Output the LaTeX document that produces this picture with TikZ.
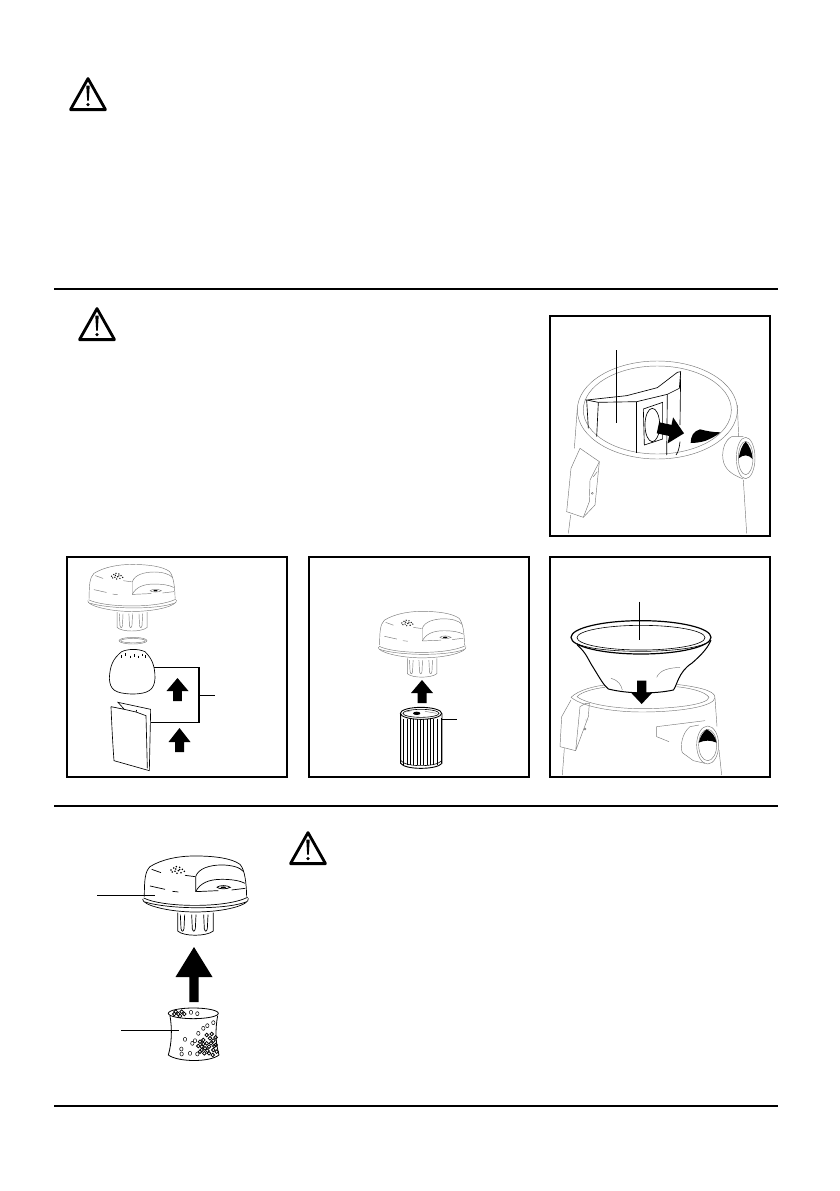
\documentclass[tikz,border=0pt]{standalone}
\usepackage{xcolor}
\usetikzlibrary{positioning}

\newcommand{\blockarrow}[6]{% tip, rotation, half head, head length, half shaft, total length
  \fill[black,shift={#1},rotate=#2] (0,0) -- (#3,#4) -- (#5,#4) -- (#5,#6) -- (-#5,#6) -- (-#5,#4) -- (-#3,#4) -- cycle;}

\tikzset{
  rule/.style={line width=1.1pt},
  panel/.style={draw, line width=1.6pt, minimum width=220pt, minimum height=220pt, inner sep=0pt},
  leader/.style={line width=.8pt},
  thinline/.style={black!52, line width=.45pt},
  darkline/.style={black, line width=.65pt},
  lidline/.style={black, line width=.7pt},
  pics/warning/.style={code={
    \draw[line width=2.8pt, line join=round] (0,-31) -- (17.5,0) -- (-17.5,0) -- cycle;
    \fill (0,-5) circle (1.8);
    \fill (-1.7,-24) -- (1.7,-24) -- (.8,-9) -- (-.8,-9) -- cycle;
  }},
  pics/lid/.style={code={
    \begin{scope}[shift={(-110,-68.33)}, scale=1/3]
      \draw[lidline] (178,200) .. controls (178,150) and (180,125) .. (195,110)
        .. controls (230,88) and (280,78) .. (330,78)
        .. controls (390,78) and (440,85) .. (465,103)
        .. controls (480,120) and (484,160) .. (485,200);
      \draw[lidline] (176,204) .. controls (230,232) and (420,236) .. (488,202);
      \draw[lidline] (173,207) .. controls (170,225) and (250,246) .. (330,246)
        .. controls (420,246) and (495,225) .. (490,205);
      \draw[lidline] (180,216) .. controls (250,238) and (420,240) .. (483,216);
      \draw[lidline] (332,185) -- (332,140) .. controls (340,115) and (375,105) .. (410,105)
        .. controls (440,105) and (465,112) .. (476,125);
      \draw[lidline] (332,185) .. controls (345,160) and (370,148) .. (410,148)
        .. controls (440,148) and (465,152) .. (480,160);
      \draw[lidline] (332,185) -- (400,182) (440,180) -- (481,175);
      \draw[lidline] (200,118) -- (228,128) (300,136) -- (330,140);
      \draw[lidline] (195,168) -- (240,178) (262,184) -- (280,186);
      \draw[lidline] (278,248) -- (278,303) .. controls (295,320) and (365,320) .. (385,303) -- (385,248);
      \foreach \rib in {292,326,362} {
        \draw[lidline] (\rib-6,254) -- (\rib-4,296) .. controls (\rib-2,306) and (\rib+3,306) .. (\rib+5,296) -- (\rib+7,254);
      }
      \draw[lidline] (395,172) .. controls (405,165) and (425,165) .. (436,172) .. controls (425,178) and (405,178) .. (395,172);
      \fill (415,172) ellipse (8 and 2.5);
      \foreach \dotx/\doty in {258/120,266/114,274/110,284/112,292/118,298/124,270/124,280/122,288/128,262/126,276/130,272/117,284/119} {
        \fill (\dotx,\doty) circle (2.6);
      }
    \end{scope}
  }},
}

\begin{document}
\begin{tikzpicture}[x=1pt, y=-1pt, node distance=241pt, on grid]
  \useasboundingbox (0,0) rectangle (839,1191);

  % rules
  \coordinate (ruleA) at (54,289);
  \coordinate (ruleAend) at (778,289);
  \coordinate (ruleB) at (54,806);
  \coordinate (ruleBend) at (778,806);
  \coordinate (ruleC) at (54,1106);
  \coordinate (ruleCend) at (778,1106);
  \draw[rule] (ruleA) -- (ruleAend);
  \draw[rule] (ruleB) -- (ruleBend);
  \draw[rule] (ruleC) -- (ruleCend);

  \pic at (88,109.6) {warning};
  \pic at (97,339.6) {warning};
  \pic at (308,863.6) {warning};

  % panels
  \node[panel] (bagpanel) at (660,426) {};
  \node[panel] (bowlpanel) [below=of bagpanel] {};
  \node[panel] (cartpanel) [left=of bowlpanel] {};
  \node[panel] (foampanel) [left=242pt of cartpanel] {};

  % bag panel
  \begin{scope}[shift={(540,305)}, scale=1/3]
    \draw[thinline] (352,315) ellipse (240 and 147);
    \draw[thinline] (352,315) ellipse (222 and 132);
    \draw[thinline] (112,310) -- (103,430);
    \draw[thinline] (592,300) -- (596,395);
    \draw[thinline] (610,525) -- (620,685);
    \draw[thinline] (92,630) -- (85,685);
    \draw[thinline] (120,430) -- (178,470) -- (165,600) -- (130,637) -- (80,620) -- (93,490) -- cycle;
    \draw[thinline] (178,470) -- (150,525) -- (148,590) -- (130,637);
    \draw[thinline] (160,515) -- (172,500) (157,565) circle (3);
    \draw[darkline] (140,285) -- (260,272) -- (352,248) -- (412,202) -- (422,200) -- (418,250) -- (382,268) -- (290,290) -- (175,292) -- cycle;
    \draw[darkline] (140,285) -- (145,370);
    \draw[darkline] (175,292) -- (170,395);
    \draw[darkline] (290,290) -- (290,445);
    \draw[darkline] (382,268) -- (380,450);
    \draw[darkline] (422,200) -- (420,360);
    \draw[darkline] (420,410) .. controls (418,430) and (414,442) .. (408,450);
    \draw[darkline] (310,312) -- (368,292) -- (368,402) -- (313,420) -- cycle;
    \draw[darkline] (337,360) ellipse (22 and 50);
    \fill (452,414) .. controls (452,395) and (460,378) .. (480,373)
      .. controls (500,378) and (520,382) .. (542,382) .. controls (525,395) and (510,402) .. (495,408) .. controls (480,412) and (465,414) .. (452,414) -- cycle;
    \draw[thinline] (610,395) -- (575,395) .. controls (555,405) and (548,430) .. (548,450)
      .. controls (548,485) and (565,505) .. (610,522);
    \draw[thinline] (617,459) ellipse (28 and 62);
    \draw[thinline] (617,459) ellipse (22 and 50);
    \fill (596,460) .. controls (600,435) and (608,418) .. (617,410) .. controls (628,420) and (636,440) .. (638,462) .. controls (625,448) and (610,448) .. (596,460) -- cycle;
    \blockarrow{(432,385)}{-102}{40}{42}{17}{80}
    \coordinate (bagtop) at (230,135);
    \coordinate (bagend) at (230,355);
    \draw[leader] (bagtop) -- (bagend);
  \end{scope}

  % foam and bag panel
  \pic[scale=.84, lidline/.style={black!52, line width=.45pt}] at (131.7,600) {lid};
  \begin{scope}[shift={(60,550)}, scale=1/3]
    \draw[thinline] (219,272) ellipse (42 and 10);
    \draw[thinline] (219,272) ellipse (37 and 6.5);
    \draw[darkline] (185,305) .. controls (160,325) and (150,345) .. (148,385)
      .. controls (150,420) and (165,430) .. (215,432)
      .. controls (265,432) and (283,420) .. (285,385)
      .. controls (285,345) and (275,325) .. (255,305)
      .. controls (235,296) and (205,296) .. (185,305);
    \foreach \tooth/\wob in {183/320,197/315,210/322,222/318,234/322,246/316,256/320} {
      \draw[darkline] (\tooth,\wob-5) -- (\tooth,\wob+3);
    }
    \draw[darkline] (153,470) -- (193,478) -- (174,457) -- (272,478)
      -- (268,662) -- (162,632) .. controls (158,580) and (155,520) .. (153,470);
    \draw[darkline] (193,478) -- (228,486) -- (230,480);
    \draw[darkline] (228,486) -- (258,497) -- (262,655);
    \coordinate (foamjoin) at (283,353);
    \coordinate (foamcorner) at (417,353);
    \coordinate (bagcorner) at (417,517);
    \coordinate (bagjoin) at (272,517);
    \coordinate (foamtap) at (417,436);
    \coordinate (foamend) at (465,436);
    \draw[line width=1.1pt] (foamjoin) -- (foamcorner) -- (bagcorner) -- (bagjoin);
    \draw[leader] (foamtap) -- (foamend);
  \end{scope}
  \blockarrow{(177.5,678)}{0}{11}{13}{4.3}{23}
  \blockarrow{(179.5,728)}{0}{11}{14}{4.5}{24}

  % cartridge panel
  \pic[scale=.83, lidline/.style={black!52, line width=.45pt}] at (421.7,646.5) {lid};
  \blockarrow{(422,680)}{0}{11}{13}{4.5}{23}
  \begin{scope}[shift={(305,550)}, scale=1/3]
    \draw[line width=.9pt] (348,490) ellipse (62 and 18);
    \draw[line width=.6pt] (348,490) ellipse (54 and 12);
    \draw[line width=.9pt] (287,490) -- (287,640) .. controls (300,660) and (395,660) .. (411,640) -- (411,490);
    \draw[line width=1.4pt] (409,505) -- (409,640);
    \draw[line width=.6pt] (288,632) .. controls (300,652) and (395,652) .. (410,632);
    \foreach \rib in {296,306,316,326,336,346,356,366,376,386,396} {
      \draw[line width=.6pt] (\rib,506) -- (\rib,644);
    }
    \fill (335,490) ellipse (11 and 5);
    \draw[thinline] (300,486) -- (320,482) (360,484) -- (395,490);
    \coordinate (cartstart) at (410,508);
    \coordinate (cartend) at (455,508);
    \draw[leader] (cartstart) -- (cartend);
  \end{scope}

  % bowl panel
  \begin{scope}[shift={(545,550)}, scale=1/3]
    \draw[thinline] (78,442) .. controls (100,420) and (150,408) .. (180,405);
    \draw[thinline] (395,403) .. controls (450,410) and (510,420) .. (510,442);
    \draw[thinline] (78,442) .. controls (120,475) and (220,486) .. (290,486) .. controls (400,486) and (510,470) .. (510,442);
    \draw[thinline] (96,440) .. controls (130,465) and (220,476) .. (290,476) .. controls (380,476) and (488,465) .. (492,442) .. controls (480,425) and (440,415) .. (395,410);
    \draw[thinline] (96,440) .. controls (110,425) and (150,415) .. (180,412);
    \draw[thinline] (510,445) -- (516,530) (522,600) -- (530,675);
    \draw[thinline] (58,595) -- (52,675);
    \draw[thinline] (78,450) -- (50,500) -- (45,590) -- (92,602) -- (130,500) -- (133,460) -- (122,460) -- (105,470) -- (92,602);
    \draw[thinline] (120,510) -- (130,510) (120,537) circle (3);
    \draw[thinline] (335,530) -- (480,512) (335,530) -- (335,560) -- (372,575);
    \draw[thinline] (462,525) -- (435,530) .. controls (410,550) and (405,590) .. (412,608) -- (445,632) -- (480,640);
    \draw[thinline] (488,585) ellipse (33 and 57);
    \draw[thinline] (488,585) ellipse (27 and 47);
    \fill (461,578) .. controls (465,560) and (475,545) .. (485,538) .. controls (500,545) and (512,560) .. (515,578) .. controls (498,570) and (478,570) .. (461,578) -- cycle;
    \fill[white] (97,285) .. controls (125,310) and (130,330) .. (140,345) .. controls (165,385) and (175,405) .. (190,417) .. controls (250,432) and (330,432) .. (385,420) .. controls (395,410) and (400,365) .. (440,340) .. controls (475,310) and (490,290) .. (498,270) -- cycle;
    \draw[line width=1pt] (97,285) .. controls (125,310) and (130,330) .. (140,345) .. controls (165,385) and (175,405) .. (190,417) .. controls (250,432) and (330,432) .. (385,420) .. controls (395,410) and (400,365) .. (440,340) .. controls (475,310) and (490,290) .. (498,270);
    \draw[line width=1.2pt] (288,262) ellipse (210 and 50);
    \draw[line width=.6pt] (288,263) ellipse (192 and 37);
    \draw[line width=.6pt] (95,280) .. controls (150,312) and (420,312) .. (482,280);
    \draw[thinline] (198,385) .. controls (222,392) and (228,405) .. (232,420);
    \draw[thinline] (335,382) .. controls (345,358) and (375,354) .. (405,352);
    \blockarrow{(290,462)}{180}{32}{34}{14}{70}
    \coordinate (bowltop) at (284,155);
    \coordinate (bowlend) at (284,270);
    \draw[leader] (bowltop) -- (bowlend);
  \end{scope}

  % lid with foam sleeve
  \pic at (195,898.3) {lid};
  \blockarrow{(194,947)}{0}{18.5}{30}{4.7}{55}
  \begin{scope}[shift={(85,830)}, scale=1/3]
    \draw[line width=.8pt] (325,550) ellipse (75 and 16);
    \draw[line width=.8pt] (255,557) .. controls (262,600) and (260,640) .. (250,675)
      .. controls (280,697) and (375,697) .. (402,675)
      .. controls (392,640) and (390,600) .. (398,557);
    \foreach \dotx/\doty in {318/547,337/551,300/628,322/640,340/610,355/595,367/587,385/578,289/657,290/672,315/670,337/672,330/632} {
      \draw[line width=.5pt] (\dotx,\doty) ellipse (5 and 6);
    }
    \foreach \dotx/\doty in {272/545,280/552,290/545,298/552,285/558,268/552,345/635,355/630,365/640,375/625,385/632,392/645,350/650,360/655,372/650,385/660,395/665,345/665,358/670,372/670,383/675,365/615,380/612,392/622,340/648,355/642,378/640,367/662,388/648,350/660} {
      \draw[line width=.8pt] (\dotx,\doty) circle (5.5);
    }
    \coordinate (sleevestart) at (108,602);
    \coordinate (sleeveend) at (283,602);
    \coordinate (lidstart) at (36,197);
    \coordinate (lidend) at (210,197);
    \draw[line width=1pt] (sleevestart) -- (sleeveend);
    \draw[line width=1pt] (lidstart) -- (lidend);
  \end{scope}
\end{tikzpicture}
\end{document}
